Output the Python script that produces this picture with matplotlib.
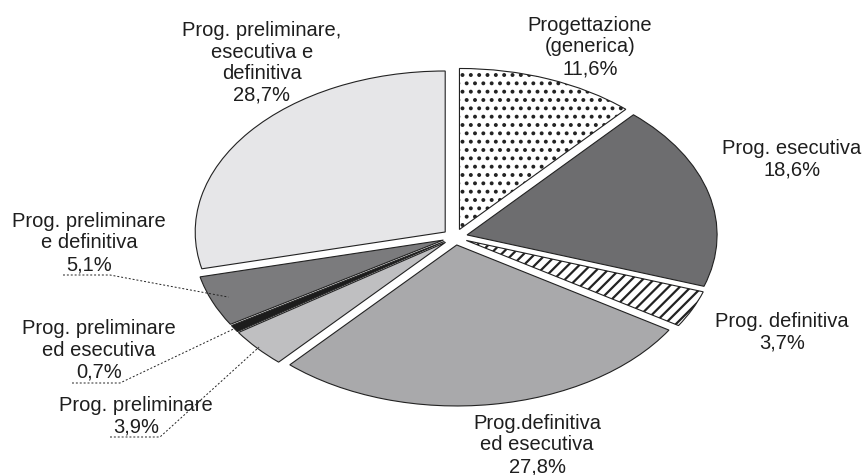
import numpy as np
import matplotlib
matplotlib.use("Agg")
import matplotlib.pyplot as plt

plt.rcParams['font.family'] = ['Liberation Sans', 'DejaVu Sans']
plt.rcParams['hatch.linewidth'] = 1.6

# slice data, clockwise from 12 o'clock
labels = ['Progettazione\n(generica)', 'Prog. esecutiva', 'Prog. definitiva',
          'Prog.definitiva\ned esecutiva', 'Prog. preliminare',
          'Prog. preliminare\ned esecutiva', 'Prog. preliminare\ne definitiva',
          'Prog. preliminare,\nesecutiva e\ndefinitiva']
values = [11.6, 18.6, 3.7, 27.8, 3.9, 0.7, 5.1, 28.7]
colors = ['white', '#6d6d6f', 'white', '#a9a9ab', '#bfbfc1', '#1c1c1c', '#7b7b7d', '#e6e6e8']
hatches = ['..', None, '///', None, None, None, None, None]

# layout in pixels: pie centre and radii (ellipse)
CX, CY = 455, 237
RX, RY = 250, 161
W, H = 866, 475

# label centres (px)
label_pos = [(590, 47), (792, 159), (782, 332), (537, 445),
             (136, 416), (99, 350), (89, 243), (262, 63)]
# leader lines for small slices: index -> (underline y, x0, x1, radius of tip)
leaders = {6: (275, 63, 110, 0.98), 5: (383, 72, 120, 1.05), 4: (437, 110, 160, 1.04)}


def px(x, y):
    return (x - CX) / RX, (CY - y) / RY


fig = plt.figure(figsize=(W / 100, H / 100), dpi=100)
ax = fig.add_axes([0, 0, 1, 1])

wedges, _ = ax.pie(values, startangle=90, counterclock=False, colors=colors,
                   explode=[0.05] * len(values),
                   wedgeprops=dict(edgecolor='#222222', linewidth=0.8))
for w, h in zip(wedges, hatches):
    if h:
        w.set_hatch(h)

ax.set_aspect('auto')
ax.set_xlim(-CX / RX, (W - CX) / RX)
ax.set_ylim(-(H - CY) / RY, CY / RY)
ax.axis('off')

for lab, v, (lx, ly) in zip(labels, values, label_pos):
    txt = lab + '\n' + f"{v:.1f}".replace('.', ',') + '%'
    x, y = px(lx, ly)
    ax.text(x, y, txt, ha='center', va='center', fontsize=14.5,
            linespacing=1.17, color='#1e1e1e')

# dashed leaders from underline to slice
for i, (uy, x0, x1, rad) in leaders.items():
    w = wedges[i]
    mid = np.deg2rad((w.theta1 + w.theta2) / 2)
    tip = (rad * np.cos(mid), rad * np.sin(mid))
    a = px(x0, uy)
    b = px(x1, uy)
    ax.plot([a[0], b[0], tip[0]], [a[1], b[1], tip[1]], color='#222222',
            linewidth=0.7, linestyle=(0, (2, 2)))

fig.savefig('out.png', dpi=100)
